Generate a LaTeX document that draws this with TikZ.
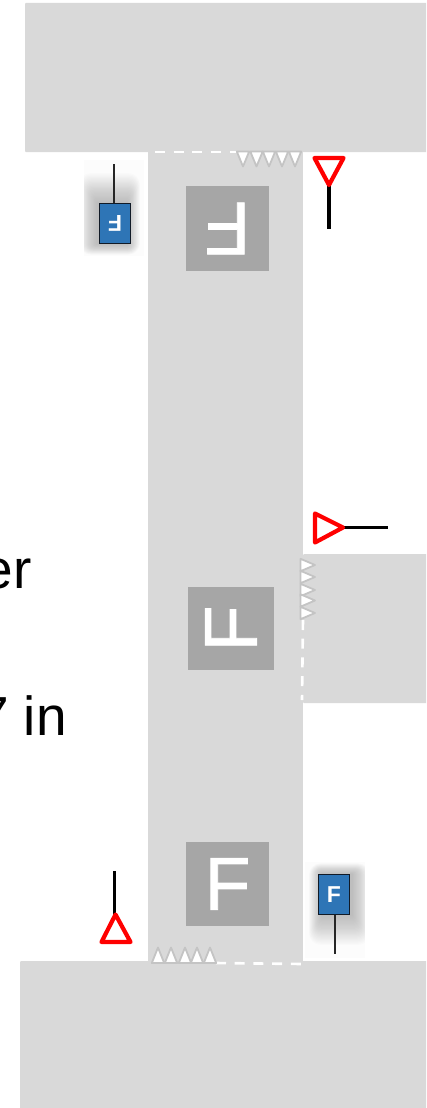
\documentclass[tikz,border=0pt]{standalone}
\usepackage{fontspec}
\setmainfont{Liberation Sans}
\newfontfamily\platefont[FakeBold=1]{Liberation Sans}
\definecolor{road}{HTML}{D9D9D9}
\definecolor{plate}{HTML}{A6A6A6}
\definecolor{signblue}{HTML}{2E75B6}
\definecolor{signedge}{HTML}{111A26}
\definecolor{tooth}{HTML}{C4C4C4}
\tikzset{
  roadarea/.style={fill=road,draw=none,rounded corners=1pt},
  plateF/.style={fill=plate,draw=none,text=white,inner sep=0pt,font=\platefont\fontsize{75}{75}\selectfont},
  bluesign/.style={fill=signblue,draw=signedge,line width=1.8pt,text=white,inner sep=0pt,minimum width=31pt,minimum height=40pt,font=\fontsize{23}{23}\selectfont\bfseries},
  signpole/.style={draw=black!85,line width=1.7pt},
  yieldsign/.style={draw=red,line width=4.2pt,line join=round,fill=white},
  yieldpole/.style={draw=black,line width=3.2pt},
  toothmark/.style={fill=white,draw=tooth,line width=1.8pt,line join=round},
  dashline/.style={draw=white,line width=2.6pt,dash pattern=on 10pt off 8.7pt},
  bigtext/.style={inner sep=0pt,anchor=base east,text=black,font=\fontsize{55}{55}\selectfont}
}
\begin{document}
\begin{tikzpicture}[x=1pt,y=-1pt]
\useasboundingbox (0,0) rectangle (426,1108);
\clip (0,0) rectangle (426,1108);
% roads
\fill[roadarea] (25,3) rectangle (440,152);
\fill[road] (148,150) rectangle (303,963);
\fill[roadarea] (303,554) rectangle (440,703);
\fill[roadarea] (20,961) rectangle (440,1120);
% plates
\node[plateF,minimum width=83pt,minimum height=85pt,rotate=180] (plateT) at (227.5,228.5) {F};
\node[plateF,minimum width=83pt,minimum height=86pt,rotate=90] (plateM) at (231,628.5) {F};
\node[plateF,minimum width=83pt,minimum height=84pt] (plateB) at (227.5,884) {F};
% dashed lines
\coordinate (dTa) at (155,152); \coordinate (dTb) at (238,152);
\coordinate (dMa) at (303,620); \coordinate (dMb) at (302,700);
\coordinate (dBa) at (216,963); \coordinate (dBb) at (302,964);
\draw[dashline] (dTa) -- (dTb);
\draw[dashline] (dMa) -- (dMb);
\draw[dashline] (dBa) -- (dBb);
% teeth
\foreach \x in {243,256.5,269,282,295}
  \draw[toothmark] (\x-6.2,151.5) -- (\x+6.2,151.5) -- (\x,166.5) -- cycle;
\foreach \y in {565,577,590,600.5,613}
  \draw[toothmark] (300.5,\y-6.2) -- (300.5,\y+6.2) -- (315,\y) -- cycle;
\foreach \x in {158,171,185,197,210}
  \draw[toothmark] (\x-6.2,963) -- (\x+6.2,963) -- (\x,947.5) -- cycle;
% shadows
\fill[black,opacity=0.012] (84,160) rectangle (144,256);
\fill[black,opacity=0.012] (305,862) rectangle (365,958);
\begin{scope}
\clip (84,160) rectangle (144,256);
\foreach \i in {1,...,24}
  \fill[black,opacity=0.012,rounded corners=\i*0.5pt] (97-\i*0.75,203-\i*1.25) rectangle (127+\i*0.55,244+\i*0.45);
\end{scope}
\begin{scope}
\clip (305,862) rectangle (365,958);
\foreach \i in {1,...,24}
  \fill[black,opacity=0.012,rounded corners=\i*0.5pt] (322-\i*0.55,874-\i*0.45) rectangle (352+\i*0.75,915+\i*1.25);
\end{scope}
% blue signs
\node[bluesign,rotate=180] (signT) at (115,223.5) {F};
\coordinate (poleT) at (114,164);
\draw[signpole] (poleT |- signT.south) -- (poleT);
\node[bluesign] (signB) at (334,894.5) {F};
\coordinate (poleB) at (335,954);
\draw[signpole] (poleB |- signB.south) -- (poleB);
% yield signs
\coordinate (yTa) at (329,185); \coordinate (yTe) at (329,229);
\draw[yieldpole] (yTa) -- (yTe);
\draw[yieldsign] (314.5,158) -- (343.5,158) -- (yTa) -- cycle;
\coordinate (yMa) at (343,527.5); \coordinate (yMe) at (388,527.5);
\draw[yieldpole] (yMa) -- (yMe);
\draw[yieldsign] (315,513.5) -- (315,542.5) -- (yMa) -- cycle;
\coordinate (yBa) at (115.5,914.5); \coordinate (yBe) at (114.5,871);
\draw[yieldpole] (yBe |- yBa) -- (yBe);
\draw[yieldsign] (101.5,942) -- (130.5,942) -- (yBa) -- cycle;
% clipped text
\node[bigtext] (textA) at (32,588) {er};
\node[bigtext] (textB) at (67,735) {7 in};
\end{tikzpicture}
\end{document}
